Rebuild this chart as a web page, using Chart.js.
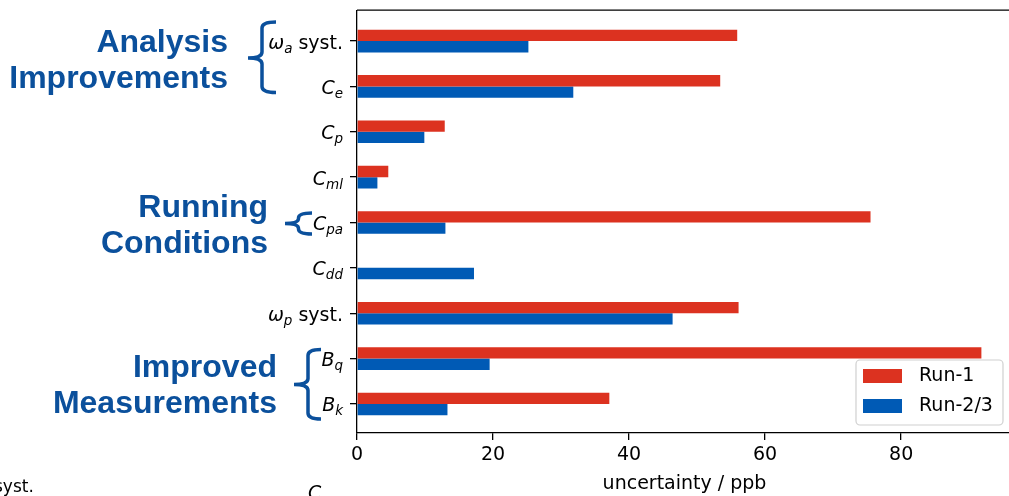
<!DOCTYPE html>
<html>
<head>
<meta charset="utf-8">
<script src="https://cdn.jsdelivr.net/npm/chart.js@4.4.1/dist/chart.umd.min.js"></script>
<style>
  html, body { margin: 0; padding: 0; background: #fff; overflow: hidden; }
  #wrap { width: 1020px; height: 496px; }
</style>
</head>
<body>
<div id="wrap"><canvas id="c" width="1020" height="496"></canvas></div>
<script>
// ---- data ----
const categories = ['ω_a syst.', 'C_e', 'C_p', 'C_ml', 'C_pa', 'C_dd', 'ω_p syst.', 'B_q', 'B_k'];
const run1 = [55.9, 53.4, 12.9, 4.6, 75.5, 0, 56.1, 91.8, 37.1];
const run23 = [25.2, 31.8, 9.9, 3.0, 13.0, 17.2, 46.4, 19.5, 13.3];
const seriesLabels = ['Run-1', 'Run-2/3'];
const xTicks = [0, 20, 40, 60, 80];
const xTitle = 'uncertainty / ppb';
const groupAnalysis = ['Analysis', 'Improvements'];
const groupRunning = ['Running', 'Conditions'];
const groupImproved = ['Improved', 'Measurements'];

// ---- styles ----
const RED = '#DC3220';
const BLUE = '#005AB5';
const GROUP_COLOR = '#0b509c';
const TICK_FONT = '"DejaVu Sans", sans-serif';

const toPoints = arr => arr.map((v, i) => ({ x: v, y: i }));

const decoPlugin = {
  id: 'deco',
  afterDraw(chart) {
    const ctx = chart.ctx;
    const ca = chart.chartArea;
    const ys = chart.scales.y;
    ctx.save();
    // top and right spines
    ctx.strokeStyle = '#000';
    ctx.lineWidth = 1.3;
    ctx.beginPath();
    ctx.moveTo(ca.left, ca.top);
    ctx.lineTo(ca.right, ca.top);
    ctx.lineTo(ca.right, ca.bottom);
    ctx.stroke();

    // category labels with math subscripts
    const mainSize = 19, subSize = 13.5;
    categories.forEach((lab, i) => {
      const y = ys.getPixelForValue(i) + 7.5;
      const us = lab.indexOf('_');
      const main = lab.slice(0, us);
      let restIdx = lab.indexOf(' ', us);
      const sub = restIdx < 0 ? lab.slice(us + 1) : lab.slice(us + 1, restIdx);
      const rest = restIdx < 0 ? '' : lab.slice(restIdx);
      ctx.font = 'italic ' + mainSize + 'px ' + TICK_FONT;
      const wMain = ctx.measureText(main).width;
      ctx.font = 'italic ' + subSize + 'px ' + TICK_FONT;
      const wSub = ctx.measureText(sub).width;
      ctx.font = mainSize + 'px ' + TICK_FONT;
      const wRest = ctx.measureText(rest).width;
      let x = 343 - (wMain + wSub + wRest);
      ctx.fillStyle = '#000';
      ctx.textBaseline = 'alphabetic';
      ctx.textAlign = 'left';
      ctx.font = 'italic ' + mainSize + 'px ' + TICK_FONT;
      ctx.fillText(main, x, y);
      x += wMain;
      ctx.font = 'italic ' + subSize + 'px ' + TICK_FONT;
      ctx.fillText(sub, x, y + 4);
      x += wSub;
      ctx.font = mainSize + 'px ' + TICK_FONT;
      ctx.fillText(rest, x, y);
    });

    // group labels
    ctx.fillStyle = GROUP_COLOR;
    ctx.textAlign = 'right';
    ctx.font = 'bold 32px "Liberation Sans", Arial, sans-serif';
    const drawGroup = (lines, xr, y0) => {
      lines.forEach((t, k) => ctx.fillText(t, xr, y0 + k * 36));
    };
    drawGroup(groupAnalysis, 228, 52);
    drawGroup(groupRunning, 268, 217);
    drawGroup(groupImproved, 277, 377);

    // braces
    ctx.strokeStyle = GROUP_COLOR;
    ctx.lineWidth = 3.5;
    ctx.lineCap = 'butt';
    const brace = (xv, yTop, yBot, yMid, xArm, xTip, r) => {
      ctx.beginPath();
      ctx.moveTo(xArm, yTop);
      ctx.quadraticCurveTo(xv, yTop, xv, yTop + r);
      ctx.lineTo(xv, yMid - r);
      ctx.quadraticCurveTo(xv, yMid, xTip, yMid);
      ctx.quadraticCurveTo(xv, yMid, xv, yMid + r);
      ctx.lineTo(xv, yBot - r);
      ctx.quadraticCurveTo(xv, yBot, xArm, yBot);
      ctx.stroke();
    };
    brace(262, 22, 92.5, 58, 276, 248, 6);
    brace(298.5, 213, 234, 223.5, 312, 285, 5);
    brace(308, 349.5, 419, 384.5, 321, 294, 6);

    // legend
    const lx = 856, ly = 360, lw = 147, lh = 65;
    ctx.fillStyle = 'rgba(255,255,255,0.8)';
    ctx.strokeStyle = '#d0d0d0';
    ctx.lineWidth = 1.2;
    ctx.beginPath();
    ctx.roundRect(lx, ly, lw, lh, 4);
    ctx.fill();
    ctx.stroke();
    const colors = [RED, BLUE];
    ctx.textAlign = 'left';
    ctx.textBaseline = 'middle';
    ctx.font = '19px ' + TICK_FONT;
    seriesLabels.forEach((t, k) => {
      const yy = 369 + k * 30;
      ctx.fillStyle = colors[k];
      ctx.fillRect(863, yy, 39, 14);
      ctx.fillStyle = '#000';
      ctx.fillText(t, 919, yy + 7.5);
    });

    // cropped fragments of neighbouring figure
    ctx.fillStyle = '#000';
    ctx.textBaseline = 'alphabetic';
    ctx.font = '17px ' + TICK_FONT;
    ctx.fillText('syst.', -6, 492);
    ctx.font = 'italic 19px ' + TICK_FONT;
    ctx.fillText('C', 308, 499);
    ctx.restore();
  }
};

new Chart(document.getElementById('c'), {
  type: 'bar',
  data: {
    datasets: [
      { label: seriesLabels[0], data: toPoints(run1), backgroundColor: RED, borderWidth: 0,
        categoryPercentage: 0.5, barPercentage: 1.0 },
      { label: seriesLabels[1], data: toPoints(run23), backgroundColor: BLUE, borderWidth: 0,
        categoryPercentage: 0.5, barPercentage: 1.0 }
    ]
  },
  options: {
    indexAxis: 'y',
    responsive: false,
    animation: false,
    devicePixelRatio: 1,
    layout: { padding: { top: 8, right: 8, left: 0, bottom: 0 } },
    plugins: { legend: { display: false }, tooltip: { enabled: false } },
    scales: {
      x: {
        type: 'linear',
        min: 0,
        max: 96.3,
        afterBuildTicks: s => { s.ticks = xTicks.map(v => ({ value: v })); },
        ticks: { color: '#000', font: { family: TICK_FONT, size: 19 }, padding: 4, maxRotation: 0 },
        grid: { display: true, drawOnChartArea: false, tickLength: 7, color: '#000', lineWidth: 1.3 },
        border: { display: true, color: '#000', width: 1.3 },
        title: { display: true, text: xTitle, color: '#000', font: { family: TICK_FONT, size: 19 },
                 padding: { top: 0, bottom: 1 } },
        afterFit: s => { s.height = 63; }
      },
      y: {
        type: 'linear',
        reverse: true,
        offset: false,
        min: -0.68,
        max: 8.64,
        afterBuildTicks: s => { s.ticks = categories.map((_, i) => ({ value: i })); },
        ticks: { callback: () => '', autoSkip: false },
        grid: { display: true, offset: false, drawOnChartArea: false, tickLength: 7, color: '#000', lineWidth: 1.3 },
        border: { display: true, color: '#000', width: 1.3 },
        afterFit: s => { s.width = 357; }
      }
    }
  },
  plugins: [decoPlugin]
});
</script>
</body>
</html>
